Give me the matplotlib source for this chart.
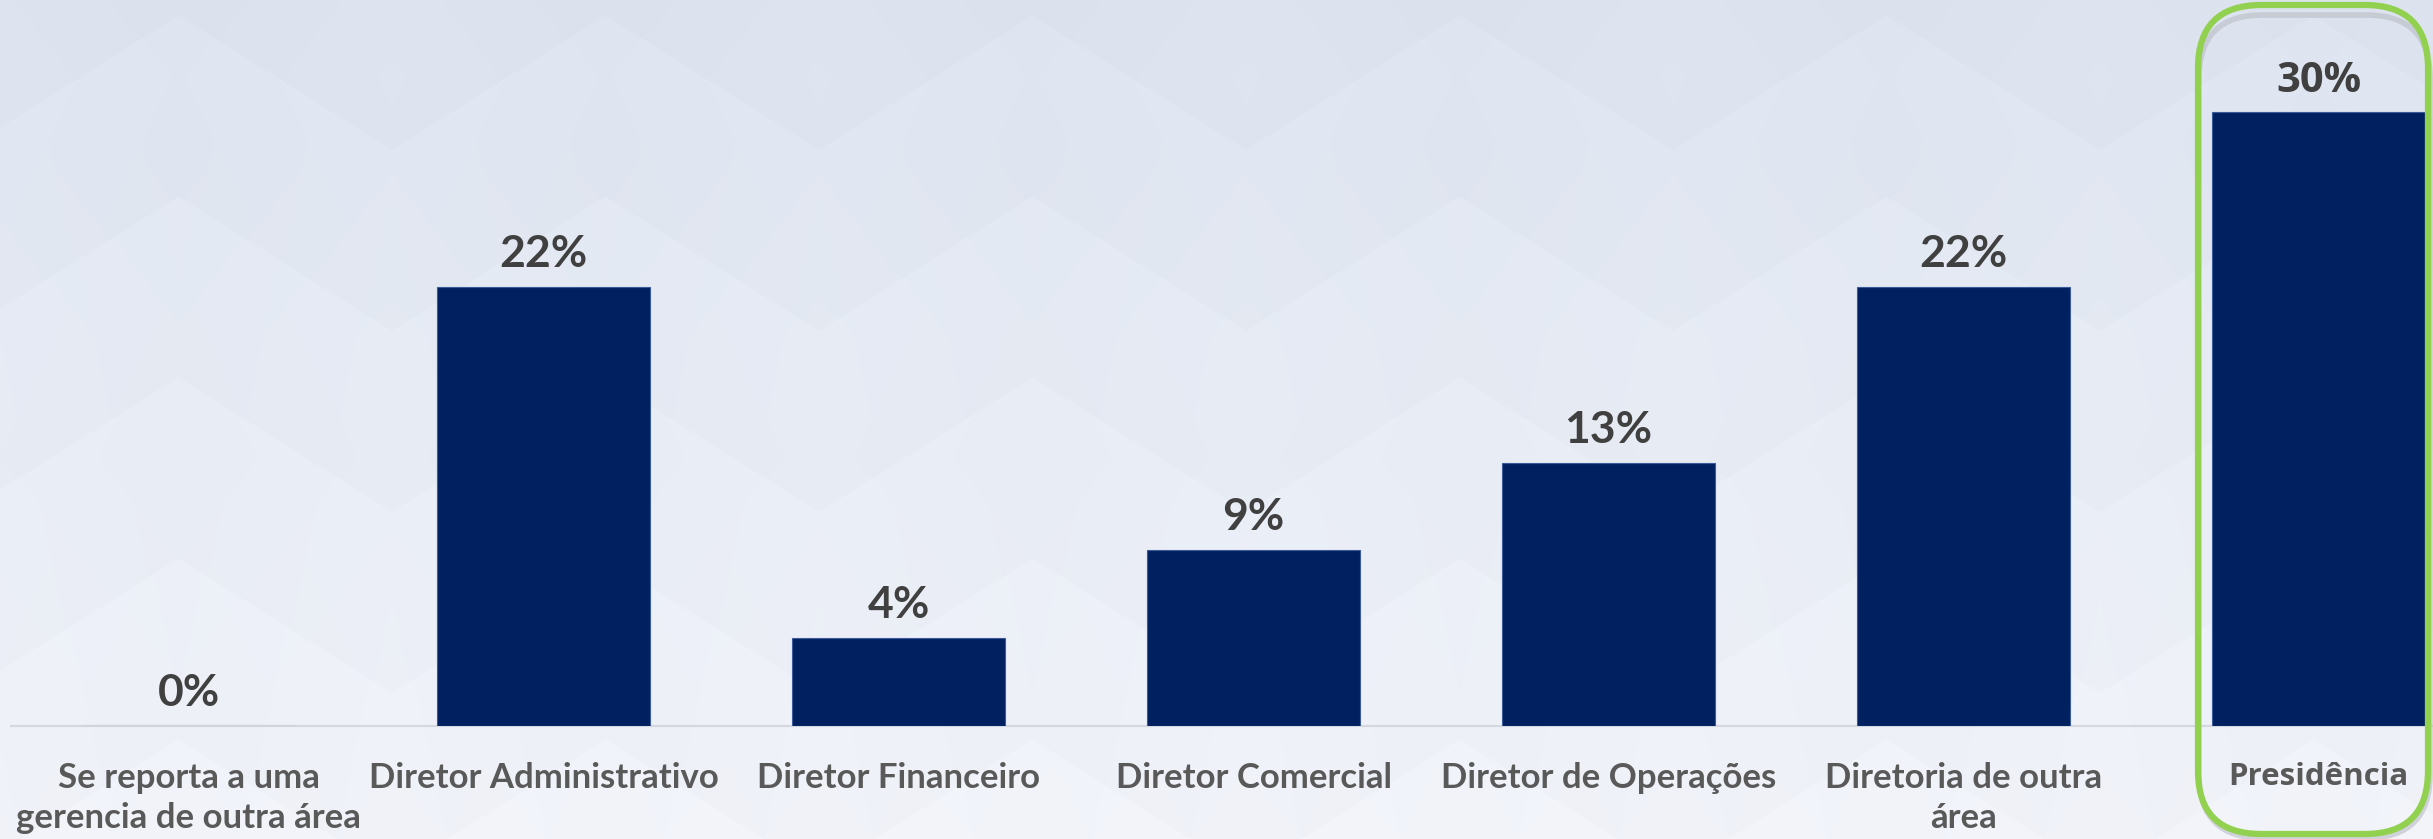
import numpy as np
import matplotlib.pyplot as plt
from matplotlib.patches import FancyBboxPatch

# data: share of respondents (n/23) per reporting line
categories = ["Se reporta a uma\ngerencia de outra área", "Diretor Administrativo",
              "Diretor Financeiro", "Diretor Comercial", "Diretor de Operações",
              "Diretoria de outra\nárea", "Presidência"]
values = [0.0, 21.74, 4.35, 8.70, 13.04, 21.74, 30.43]
value_labels = ["0%", "22%", "4%", "9%", "13%", "22%", "30%"]

W, H = 2433, 839
fig = plt.figure(figsize=(W / 100, H / 100), dpi=100)

# background: soft gradient with faint chevrons
yy, xx = np.mgrid[0:H, 0:W].astype(float)
period_x, period_y, slope = 427.0, 181.0, 0.63
dist = np.abs(((xx - 178 + period_x / 2) % period_x) - period_x / 2)
phase = ((yy - 15 - slope * dist) / period_y) % 1.0
top = np.array([219, 226, 238]) / 255
bot = np.array([240, 242, 248]) / 255
t = (yy / H)[..., None]
bg = top * (1 - t) + bot * t
bg = bg + (0.012 * (1 - phase))[..., None]
bg = np.clip(bg, 0, 1)
ax_bg = fig.add_axes([0, 0, 1, 1])
ax_bg.imshow(bg, aspect="auto", extent=[0, 1, 0, 1], origin="upper")
ax_bg.set_axis_off()

# main axes
left_px, base_px, step_px = 11, 726, 355
ax = fig.add_axes([left_px / W, (H - base_px) / H, (W - left_px) / W, base_px / H])
ax.patch.set_alpha(0)
x = np.arange(len(categories))
ax.bar(x, values, width=0.6, color="#002060", edgecolor="#3A5A9A", linewidth=0.8, zorder=3)
ax.set_xlim(-0.5, -0.5 + (W - left_px) / step_px)
ax.set_ylim(0, base_px / 20.18)
for s in ["top", "right", "left"]:
    ax.spines[s].set_visible(False)
ax.spines["bottom"].set_color("#D5D8DE")
ax.spines["bottom"].set_linewidth(1.6)
ax.set_yticks([])
ax.set_xticks([])

for i, (v, lab) in enumerate(zip(values, value_labels)):
    fam = "Open Sans" if i == 6 else "Lato"
    ax.annotate(lab, (i, v), xytext=(0, 20), textcoords="offset pixels",
                ha="center", va="baseline", fontsize=30 if i == 6 else 32,
                fontweight="bold", color="#404040", family=fam, zorder=4)

for i, c in enumerate(categories):
    fam = "Open Sans" if i == 6 else "Lato"
    ax.annotate(c, (i, 0), xytext=(0, -36), textcoords="offset pixels",
                ha="center", va="top", fontsize=22.5 if i == 6 else 25,
                fontweight="bold", color="#595959", family=fam,
                linespacing=1.3, annotation_clip=False)

# highlight box around Presidência
shadow = FancyBboxPatch((2199 / W, 1 / H), 231 / W, 823 / H,
                        boxstyle="round,pad=0,rounding_size=0.026",
                        transform=fig.transFigure, facecolor="none",
                        edgecolor="#B8BCC4", linewidth=4, alpha=0.6, zorder=5,
                        mutation_aspect=W / H)
fig.add_artist(shadow)
box = FancyBboxPatch((2198 / W, 5 / H), 230 / W, 829 / H,
                     boxstyle="round,pad=0,rounding_size=0.026",
                     transform=fig.transFigure, facecolor="none",
                     edgecolor="#92D050", linewidth=4.5, zorder=6,
                     mutation_aspect=W / H)
fig.add_artist(box)

fig.savefig("out.png", dpi=100)
